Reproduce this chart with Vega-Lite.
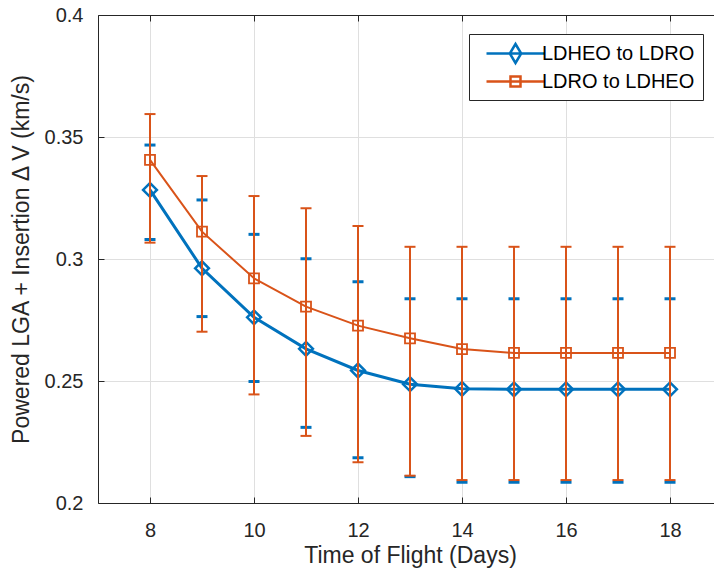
{
  "$schema": "https://vega.github.io/schema/vega-lite/v6.json",
  "autosize": "none",
  "width": 616,
  "height": 488,
  "padding": {"left": 98, "top": 15, "right": 0, "bottom": 76},
  "background": "white",
  "config": {
    "font": "Liberation Sans",
    "view": {"stroke": null},
    "axis": {
      "labelFont": "Liberation Sans",
      "titleFont": "Liberation Sans",
      "labelFontSize": 20,
      "titleFontSize": 23,
      "labelColor": "#262626",
      "titleColor": "#262626",
      "titleFontWeight": "normal",
      "domainColor": "#262626",
      "tickColor": "#262626",
      "gridColor": "#dfdfdf",
      "gridWidth": 1,
      "tickSize": -6
    }
  },
  "data": {
    "values": [
      {"day": 8, "series": "LDHEO to LDRO", "v": 0.3283, "lo": 0.3080, "hi": 0.3467},
      {"day": 9, "series": "LDHEO to LDRO", "v": 0.2962, "lo": 0.2764, "hi": 0.3242},
      {"day": 10, "series": "LDHEO to LDRO", "v": 0.2761, "lo": 0.2498, "hi": 0.3101},
      {"day": 11, "series": "LDHEO to LDRO", "v": 0.2632, "lo": 0.2310, "hi": 0.3001},
      {"day": 12, "series": "LDHEO to LDRO", "v": 0.2543, "lo": 0.2185, "hi": 0.2907},
      {"day": 13, "series": "LDHEO to LDRO", "v": 0.2487, "lo": 0.2108, "hi": 0.2837},
      {"day": 14, "series": "LDHEO to LDRO", "v": 0.2468, "lo": 0.2085, "hi": 0.2837},
      {"day": 15, "series": "LDHEO to LDRO", "v": 0.2466, "lo": 0.2085, "hi": 0.2837},
      {"day": 16, "series": "LDHEO to LDRO", "v": 0.2466, "lo": 0.2085, "hi": 0.2837},
      {"day": 17, "series": "LDHEO to LDRO", "v": 0.2466, "lo": 0.2085, "hi": 0.2837},
      {"day": 18, "series": "LDHEO to LDRO", "v": 0.2466, "lo": 0.2085, "hi": 0.2837},
      {"day": 8, "series": "LDRO to LDHEO", "v": 0.3406, "lo": 0.3067, "hi": 0.3594},
      {"day": 9, "series": "LDRO to LDHEO", "v": 0.3112, "lo": 0.2702, "hi": 0.3340},
      {"day": 10, "series": "LDRO to LDHEO", "v": 0.2921, "lo": 0.2445, "hi": 0.3258},
      {"day": 11, "series": "LDRO to LDHEO", "v": 0.2805, "lo": 0.2275, "hi": 0.3208},
      {"day": 12, "series": "LDRO to LDHEO", "v": 0.2727, "lo": 0.2167, "hi": 0.3135},
      {"day": 13, "series": "LDRO to LDHEO", "v": 0.2675, "lo": 0.2112, "hi": 0.3050},
      {"day": 14, "series": "LDRO to LDHEO", "v": 0.2631, "lo": 0.2094, "hi": 0.3050},
      {"day": 15, "series": "LDRO to LDHEO", "v": 0.2615, "lo": 0.2094, "hi": 0.3050},
      {"day": 16, "series": "LDRO to LDHEO", "v": 0.2615, "lo": 0.2094, "hi": 0.3050},
      {"day": 17, "series": "LDRO to LDHEO", "v": 0.2615, "lo": 0.2094, "hi": 0.3050},
      {"day": 18, "series": "LDRO to LDHEO", "v": 0.2615, "lo": 0.2094, "hi": 0.3050}
    ]
  },
  "resolve": {"axis": {"x": "independent"}},
  "layer": [
    {
      "transform": [{"filter": "datum.series === 'LDHEO to LDRO'"}],
      "encoding": {
        "x": {
          "field": "day", "type": "quantitative",
          "scale": {"domain": [7, 18.846], "nice": false, "zero": false},
          "axis": {"values": [8, 10, 12, 14, 16, 18], "title": "Time of Flight (Days)", "labelPadding": 23, "titlePadding": 4, "titleX": 312}
        }
      },
      "layer": [
        {
          "mark": {"type": "rule", "strokeWidth": 2, "color": "#0072BD"},
          "encoding": {
            "y": {"field": "lo", "type": "quantitative",
              "scale": {"domain": [0.2, 0.4], "nice": false, "zero": false},
              "axis": {"values": [0.2, 0.25, 0.3, 0.35, 0.4], "format": "~g", "title": "Powered LGA + Insertion Δ V (km/s)", "labelPadding": 21, "titlePadding": 11}},
            "y2": {"field": "hi"}
          }
        },
        {"mark": {"type": "tick", "orient": "horizontal", "size": 11, "thickness": 3, "opacity": 1, "color": "#0072BD"}, "encoding": {"y": {"field": "lo", "type": "quantitative"}}},
        {"mark": {"type": "tick", "orient": "horizontal", "size": 11, "thickness": 3, "opacity": 1, "color": "#0072BD"}, "encoding": {"y": {"field": "hi", "type": "quantitative"}}},
        {"mark": {"type": "line", "strokeWidth": 3, "color": "#0072BD"}, "encoding": {"y": {"field": "v", "type": "quantitative"}}},
        {"mark": {"type": "point", "shape": "diamond", "filled": false, "size": 190, "strokeWidth": 2.5, "opacity": 1, "color": "#0072BD"}, "encoding": {"y": {"field": "v", "type": "quantitative"}}}
      ]
    },
    {
      "transform": [{"filter": "datum.series === 'LDRO to LDHEO'"}],
      "encoding": {
        "x": {
          "field": "day", "type": "quantitative",
          "axis": {"orient": "top", "values": [8, 10, 12, 14, 16, 18], "labels": false, "grid": false, "title": null, "domain": true}
        }
      },
      "layer": [
        {"mark": {"type": "rule", "strokeWidth": 2, "color": "#D95319"}, "encoding": {"y": {"field": "lo", "type": "quantitative"}, "y2": {"field": "hi"}}},
        {"mark": {"type": "tick", "orient": "horizontal", "size": 11, "thickness": 2, "opacity": 1, "color": "#D95319"}, "encoding": {"y": {"field": "lo", "type": "quantitative"}}},
        {"mark": {"type": "tick", "orient": "horizontal", "size": 11, "thickness": 2, "opacity": 1, "color": "#D95319"}, "encoding": {"y": {"field": "hi", "type": "quantitative"}}},
        {"mark": {"type": "line", "strokeWidth": 2, "color": "#D95319"}, "encoding": {"y": {"field": "v", "type": "quantitative"}}},
        {"mark": {"type": "point", "shape": "square", "filled": false, "size": 100, "strokeWidth": 1.8, "opacity": 1, "color": "#D95319"}, "encoding": {"y": {"field": "v", "type": "quantitative"}}}
      ]
    },
    {
      "mark": {"type": "point", "filled": false, "opacity": 0},
      "encoding": {
        "x": {"field": "day", "type": "quantitative", "axis": null},
        "y": {"field": "v", "type": "quantitative"},
        "color": {
          "field": "series", "type": "nominal",
          "scale": {"domain": ["LDHEO to LDRO", "LDRO to LDHEO"], "range": ["#0072BD", "#D95319"]},
          "legend": {
            "orient": "none", "legendX": 371, "legendY": 19, "title": null,
            "strokeColor": "#262626", "fillColor": "white", "padding": 8,
            "labelFont": "Liberation Sans", "labelFontSize": 20, "labelColor": "#000000",
            "symbolOffset": 27, "labelOffset": 15, "rowPadding": 2, "symbolSize": 400, "symbolStrokeWidth": 2.5, "symbolOpacity": 1
          }
        },
        "shape": {
          "field": "series", "type": "nominal",
          "scale": {"domain": ["LDHEO to LDRO", "LDRO to LDHEO"], "range": ["M-2.9,0L2.9,0M0,-0.95L0.57,0L0,0.95L-0.57,0Z", "M-2.9,0L2.9,0M-0.5,-0.5L0.5,-0.5L0.5,0.5L-0.5,0.5Z"]},
          "legend": {
            "orient": "none", "legendX": 371, "legendY": 19, "title": null,
            "strokeColor": "#262626", "fillColor": "white", "padding": 8,
            "labelFont": "Liberation Sans", "labelFontSize": 20, "labelColor": "#000000",
            "symbolOffset": 27, "labelOffset": 15, "rowPadding": 2, "symbolSize": 400, "symbolStrokeWidth": 2.5, "symbolOpacity": 1
          }
        }
      }
    }
  ]
}
